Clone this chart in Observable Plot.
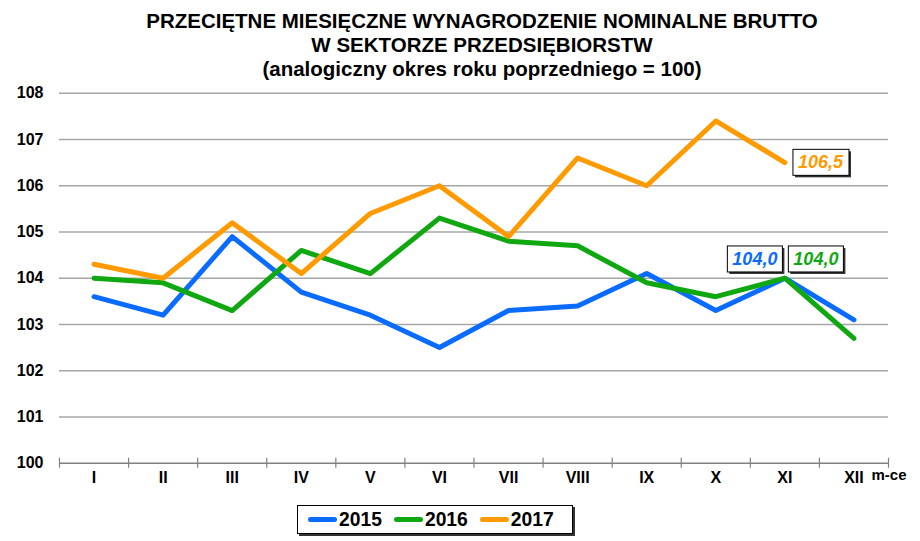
<!DOCTYPE html>
<html><head><meta charset="utf-8">
<script src="https://cdn.jsdelivr.net/npm/d3@7"></script>
<script src="https://cdn.jsdelivr.net/npm/@observablehq/plot@0.6"></script>
<style>
body{margin:0;background:#fff;font-family:"Liberation Sans",Arial,sans-serif;width:920px;height:541px;overflow:hidden;position:relative}
#title{position:absolute;left:44px;top:9px;width:876px;text-align:center;font-weight:bold;font-size:20.5px;line-height:24px;color:#000}
#chart{position:absolute;left:0;top:80px}
#legend{position:absolute;left:297px;top:505px;width:264px;height:27px;border:1px solid #000;box-shadow:2px 2px 0 #333;background:#fff;display:flex;align-items:center;padding-left:10px;box-sizing:content-box}
#legend .it{display:flex;align-items:center;margin-right:12px}
#legend .ln{width:29px;height:5px;border-radius:3px;margin-right:2px}
#legend .tx{font-weight:bold;font-size:19.3px;color:#000}
</style>
</head><body>
<div id="title">PRZECIĘTNE MIESIĘCZNE WYNAGRODZENIE NOMINALNE BRUTTO<br>W SEKTORZE PRZEDSIĘBIORSTW<br>(analogiczny okres roku poprzedniego = 100)</div>
<div id="chart"></div>
<div id="legend"></div>
<script>
const months = ["I","II","III","IV","V","VI","VII","VIII","IX","X","XI","XII"];
const years = ["2015","2016","2017"];
const colors = ["#0a6cff","#10a810","#ff9a00"];
const v2015 = [103.6,103.2,104.9,103.7,103.2,102.5,103.3,103.4,104.1,103.3,104.0,103.1];
const v2016 = [104.0,103.9,103.3,104.6,104.1,105.3,104.8,104.7,103.9,103.6,104.0,102.7];
const v2017 = [104.3,104.0,105.2,104.1,105.4,106.0,104.9,106.6,106.0,107.4,106.5];
const yTicks = [100,101,102,103,104,105,106,107,108];
const xBounds = [0,1,2,3,4,5,6,7,8,9,10,11,12];
const xUnit = "m-ce";

const seriesVals = {"2015": v2015, "2016": v2016, "2017": v2017};
const rows = years.flatMap(y => seriesVals[y].map((v, i) => ({m: i + 0.5, v, year: y})));
const fmt = v => v.toFixed(1).replace(".", ",");
const annoRow = y => [{m: 10.5, v: seriesVals[y][10], year: y, label: fmt(seriesVals[y][10])}];

const font = '"Liberation Sans", Arial, sans-serif';
const plot = Plot.plot({
  width: 920, height: 420,
  marginTop: 12.7, marginBottom: 37.3, marginLeft: 59, marginRight: 32,
  x: {domain: [0, 12], axis: null},
  y: {domain: [100, 108], axis: null},
  color: {domain: years, range: colors},
  style: {fontFamily: font, background: "white", color: "#000", overflow: "visible"},
  marks: [
    Plot.ruleY(yTicks.filter(d => d > 100), {stroke: "#a6a6a6", strokeWidth: 1.5}),
    Plot.ruleY([100], {stroke: "#808080", strokeWidth: 1.5}),
    Plot.axisX({ticks: xBounds, tickSize: 10, dy: -5, tickFormat: () => "", stroke: "#808080", strokeWidth: 1.2, label: null}),
    Plot.axisX({ticks: months.map((m, i) => i + 0.5), tickSize: 0, tickPadding: 8.5, tickFormat: d => months[Math.floor(d)], fontSize: 16, fontWeight: "bold", fill: "#000", label: null}),
    Plot.axisY({ticks: yTicks, tickSize: 0, tickPadding: 16, fontSize: 16, fontWeight: "bold", fill: "#000", label: null}),
    Plot.text([xUnit], {frameAnchor: "bottom-right", dx: -17, dy: 17, textAnchor: "start", fontSize: 15, fontWeight: "bold", fill: "#000"}),
    Plot.line(rows, {x: "m", y: "v", z: "year", stroke: "year", strokeWidth: 5, strokeLinejoin: "round", strokeLinecap: "round"}),
    Plot.text(annoRow("2017"), {x: "m", y: "v", text: "label", fill: "year", dx: 35.6, dy: 0, fontSize: 18, fontWeight: "bold", fontStyle: "italic"}),
    Plot.text(annoRow("2015"), {x: "m", y: "v", text: "label", fill: "year", dx: -30, dy: -19, fontSize: 18, fontWeight: "bold", fontStyle: "italic"}),
    Plot.text(annoRow("2016"), {x: "m", y: "v", text: "label", fill: "year", dx: 31, dy: -19, fontSize: 18, fontWeight: "bold", fontStyle: "italic"})
  ]
});
document.getElementById("chart").append(plot);

// boxes with shadow behind annotation labels
const ns = "http://www.w3.org/2000/svg";
const annoTexts = Array.from(plot.querySelectorAll("text")).filter(t => /^\d{3},\d$/.test(t.textContent));
annoTexts.forEach(t => {
  const bb = t.getBBox();
  const w = bb.width + 10, h = 26;
  const cx = bb.x + bb.width / 2, cy = bb.y + bb.height / 2;
  const tr = t.getAttribute("transform");
  const mk = (off, fill, stroke) => {
    const r = document.createElementNS(ns, "rect");
    r.setAttribute("x", cx - w / 2 + off); r.setAttribute("y", cy - h / 2 + off);
    r.setAttribute("width", w); r.setAttribute("height", h);
    r.setAttribute("fill", fill);
    if (stroke) { r.setAttribute("stroke", stroke); r.setAttribute("stroke-width", 1); }
    if (tr) r.setAttribute("transform", tr);
    t.parentNode.insertBefore(r, t);
  };
  mk(2, "#333", null);
  mk(0, "#fff", "#000");
});

// legend
const lg = document.getElementById("legend");
years.forEach((y, i) => {
  const it = document.createElement("div"); it.className = "it";
  const ln = document.createElement("div"); ln.className = "ln"; ln.style.background = colors[i];
  const tx = document.createElement("div"); tx.className = "tx"; tx.textContent = y;
  it.append(ln, tx); lg.append(it);
});
</script>
</body></html>
